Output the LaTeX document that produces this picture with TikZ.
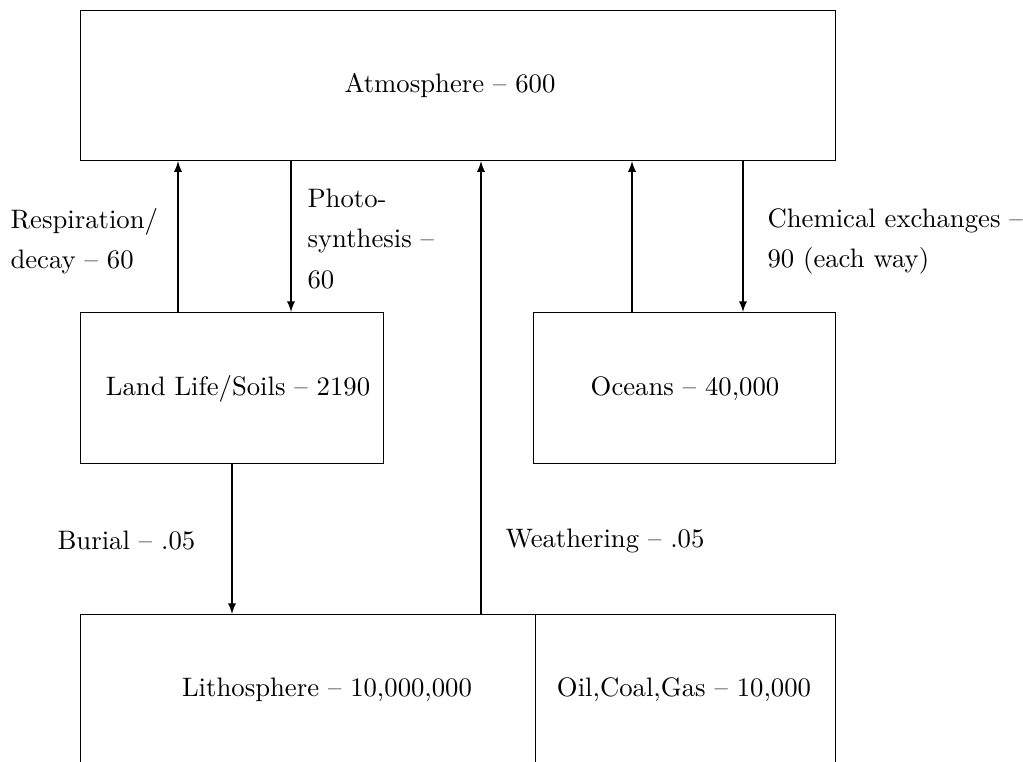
\documentclass[tikz,border=0pt]{standalone}
\begin{document}
\begin{tikzpicture}[x=0.3745pt, y=-0.3745pt,
  reservoir/.style={draw, line width=0.4pt, rectangle, inner sep=0pt, anchor=north west},
  flow/.style={draw, line width=0.4pt, -latex},
  boxtext/.style={inner sep=0pt, font={\fontsize{10}{15}\selectfont}},
  flowtext/.style={inner sep=0pt, anchor=west, align=left, font={\fontsize{10}{15}\selectfont}}]
  \clip (0,0) rectangle (1023,762);
  \useasboundingbox (0,0) rectangle (1023,762);

  % carbon reservoirs
  \node[reservoir, minimum width=755*0.3745pt, minimum height=150*0.3745pt] (atm) at (80,10) {};
  \node[reservoir, minimum width=303*0.3745pt, minimum height=151*0.3745pt] (land) at (80,312) {};
  \node[reservoir, minimum width=302*0.3745pt, minimum height=151*0.3745pt] (ocean) at (533,312) {};
  \node[reservoir, minimum width=455*0.3745pt, minimum height=150*0.3745pt] (litho) at (80,614) {};
  \node[reservoir, minimum width=300*0.3745pt, minimum height=150*0.3745pt] (fossil) at (535,614) {};

  \node[boxtext] (atmtext) at (450,86) {Atmosphere -- 600};
  \node[boxtext] (landtext) at (238,389) {Land Life/Soils -- 2190};
  \node[boxtext] (oceantext) at (685,389) {Oceans -- 40,000};
  \node[boxtext] (lithotext) at (327,690) {Lithosphere -- 10,000,000};
  \node[boxtext] (fossiltext) at (684,690) {Oil,Coal,Gas -- 10,000};

  % fluxes between reservoirs
  \draw[flow] (land.north west -| 178,0) -- (atm.south west -| 178,0);
  \draw[flow] (atm.south west -| 291,0) -- (land.north west -| 291,0);
  \draw[flow] (litho.north west -| 481,0) -- (atm.south west -| 481,0);
  \draw[flow] (ocean.north west -| 632,0) -- (atm.south west -| 632,0);
  \draw[flow] (atm.south west -| 743,0) -- (ocean.north west -| 743,0);
  \draw[flow] (land.south west -| 232,0) -- (litho.north west -| 232,0);

  % flux labels
  \node[flowtext] (resp) at (10,241) {Respiration/\\decay -- 60};
  \node[flowtext] (photo) at (307,239) {Photo-\\synthesis --\\60};
  \node[flowtext] (chem) at (767,241) {Chemical exchanges --\\90 (each way)};
  \node[flowtext] (burial) at (57,541) {Burial -- .05};
  \node[flowtext] (weather) at (505,541) {Weathering -- .05};
\end{tikzpicture}
\end{document}
